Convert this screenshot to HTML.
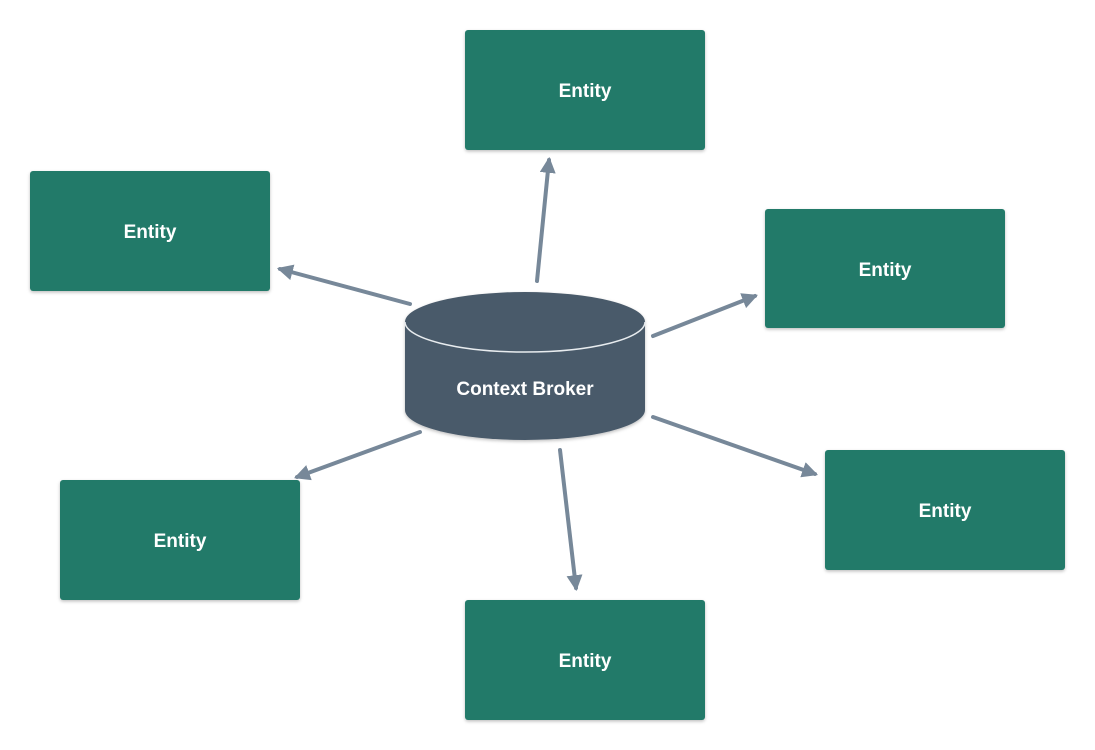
<!DOCTYPE html>
<html><head><style>
body{margin:0;background:#fff;width:1095px;height:750px;overflow:hidden}
svg{display:block}
text{font-family:"Liberation Sans",sans-serif;font-weight:bold;fill:#fff}
</style></head><body>
<svg width="1095" height="750" viewBox="0 0 1095 750">
<defs>
<marker id="a" viewBox="0 0 10 10" refX="8" refY="5" markerWidth="4" markerHeight="4" orient="auto">
<path d="M0,0 L10,5 L0,10 z" fill="#778899"/></marker>
<filter id="s" x="-5%" y="-5%" width="110%" height="115%"><feDropShadow dx="0" dy="1.5" stdDeviation="1.5" flood-opacity="0.25"/></filter>
</defs>
<g stroke="#778899" stroke-width="4" fill="none" stroke-linecap="round" marker-end="url(#a)">
<line x1="537" y1="281" x2="549" y2="160"/>
<line x1="410" y1="304" x2="280" y2="269"/>
<line x1="653" y1="336" x2="755" y2="296"/>
<line x1="420" y1="432" x2="297" y2="477"/>
<line x1="653" y1="417" x2="815" y2="474"/>
<line x1="560" y1="450" x2="576" y2="588"/>
</g>
<g fill="#217a69" filter="url(#s)">
<rect x="465" y="30" width="240" height="120" rx="3"/>
<rect x="30" y="171" width="240" height="120" rx="3"/>
<rect x="765" y="209" width="240" height="119" rx="3"/>
<rect x="60" y="480" width="240" height="120" rx="3"/>
<rect x="825" y="450" width="240" height="120" rx="3"/>
<rect x="465" y="600" width="240" height="120" rx="3"/>
</g>
<g font-size="19" text-anchor="middle">
<text x="585" y="97">Entity</text>
<text x="150" y="238">Entity</text>
<text x="885" y="276">Entity</text>
<text x="180" y="547">Entity</text>
<text x="945" y="517">Entity</text>
<text x="585" y="667">Entity</text>
</g>
<g filter="url(#s)">
<path d="M405,322 A120,30 0 0 1 645,322 L645,410 A120,30 0 0 1 405,410 Z" fill="#4a5a6a"/>
</g>
<path d="M405,322 A120,30 0 0 0 645,322" fill="none" stroke="#e8ecef" stroke-width="1.5"/>
<text x="525" y="395" font-size="19" text-anchor="middle">Context Broker</text>
</svg>
</body></html>
